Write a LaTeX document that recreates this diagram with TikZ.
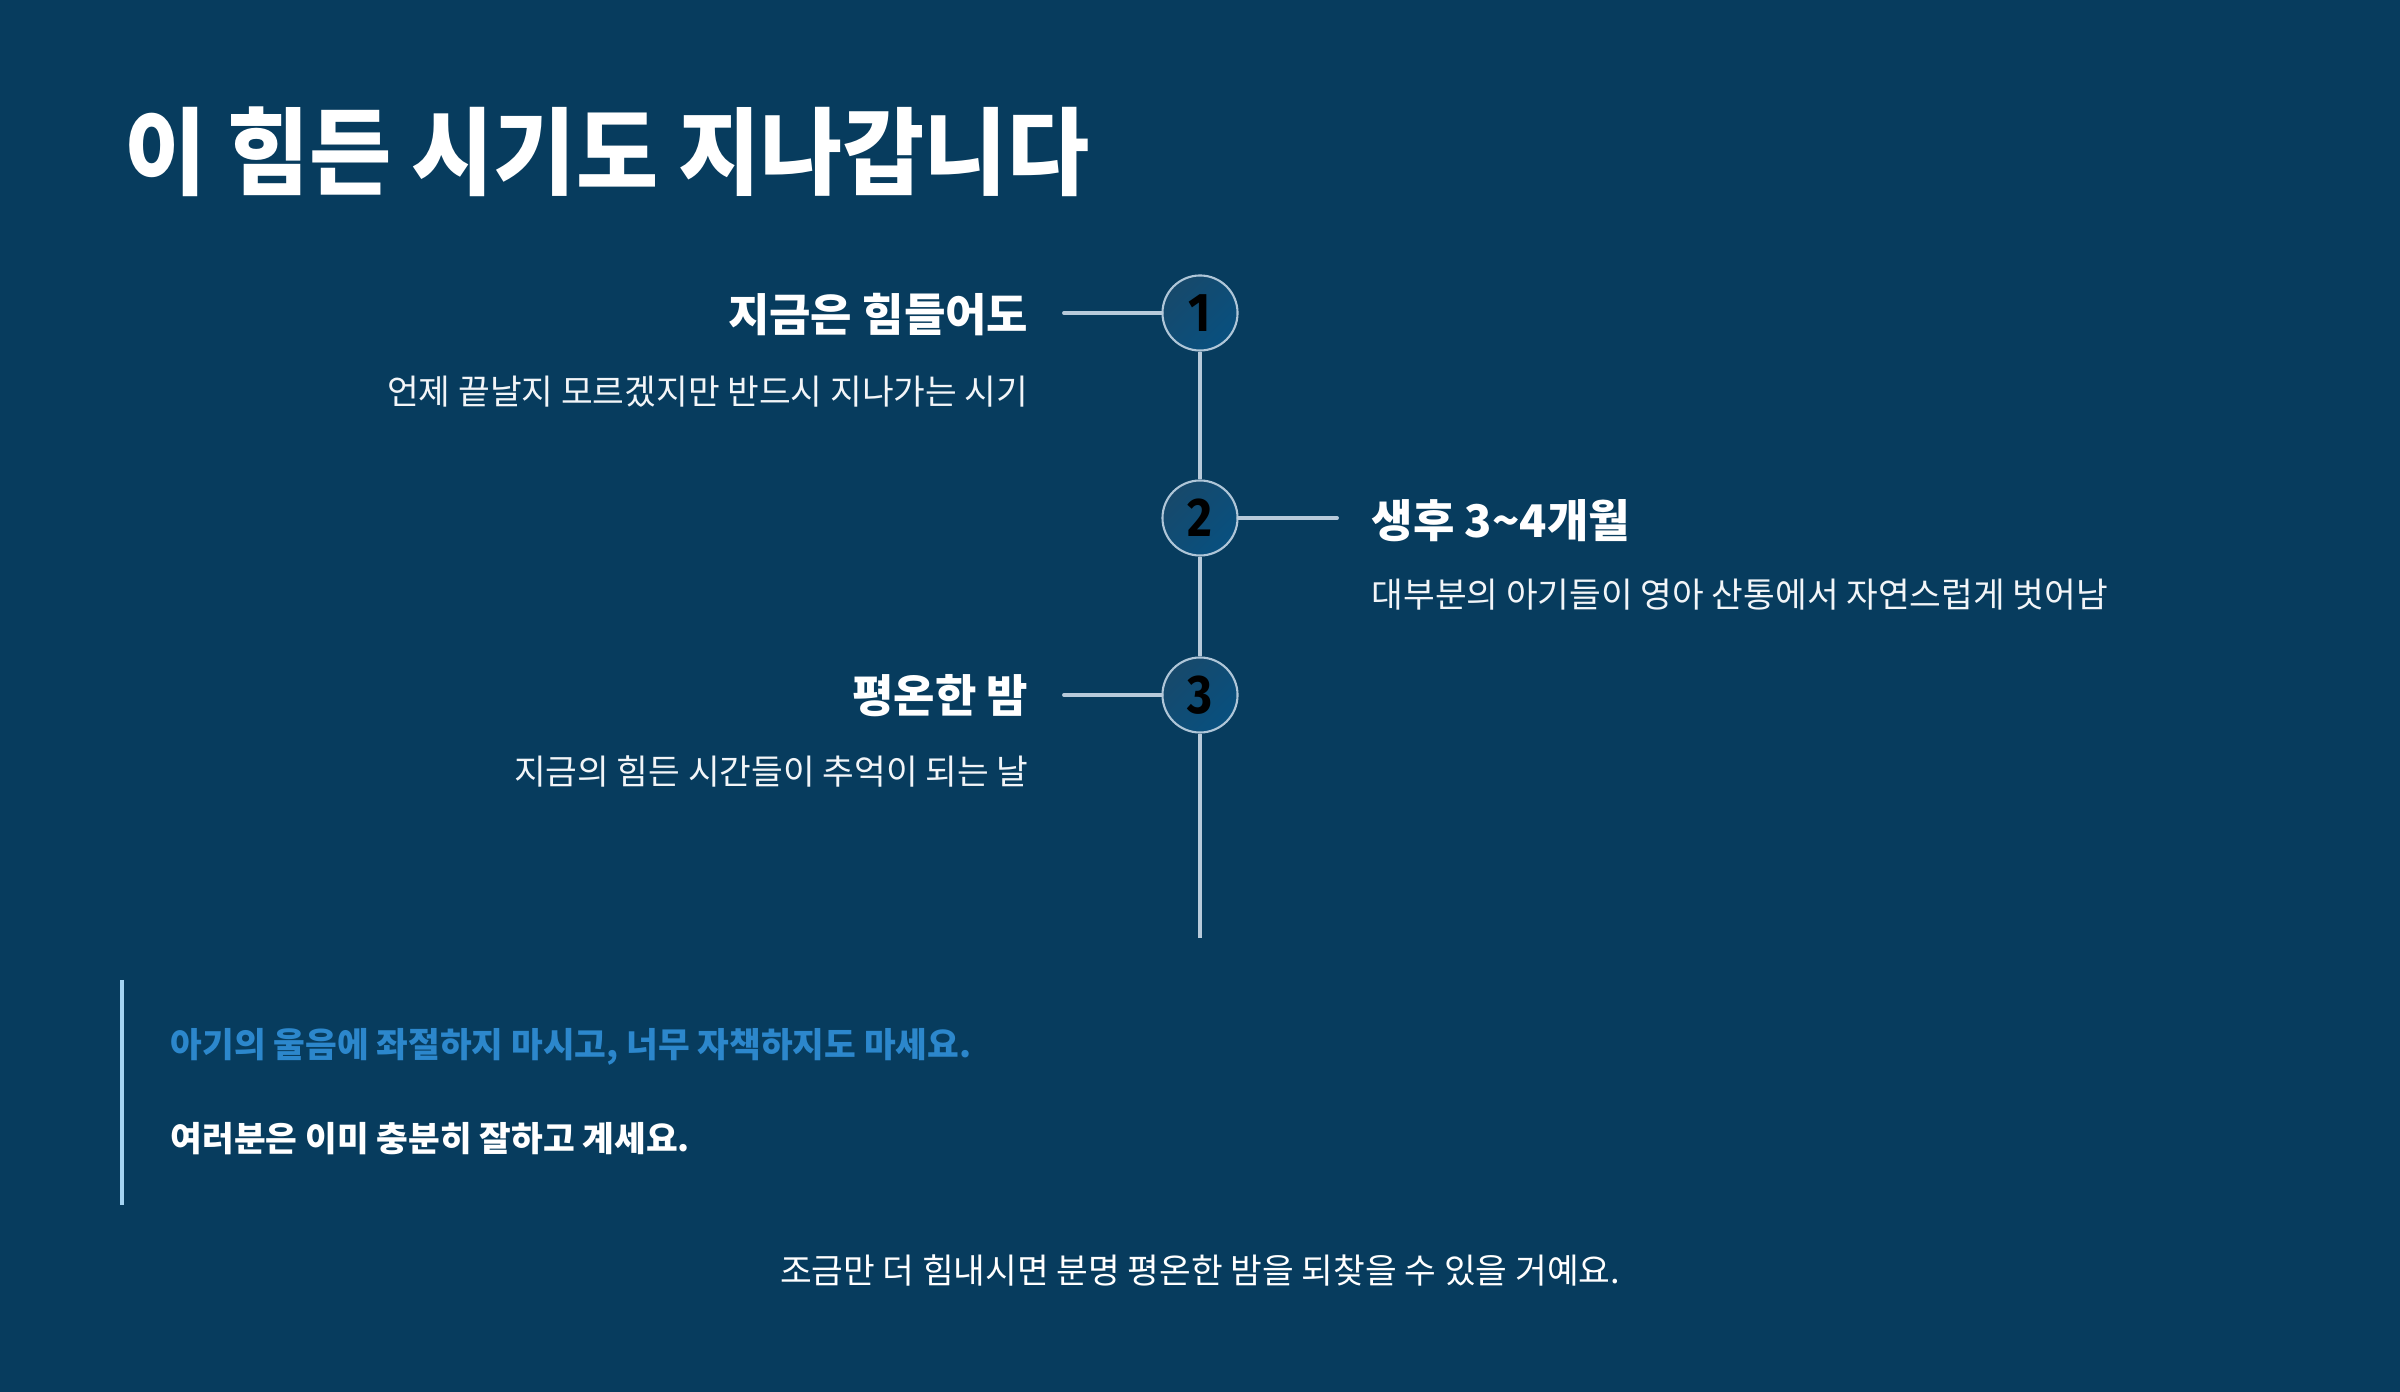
\documentclass[tikz,border=0pt]{standalone}
\usepackage{fontspec}
\usetikzlibrary{positioning}
\newfontfamily\krfont{Noto Sans CJK KR}
\newfontfamily\krtitlefont[FakeStretch=0.94]{Noto Sans CJK KR}
\newfontfamily\numfont[FakeStretch=0.88]{Fira Sans}
\definecolor{bg}{HTML}{073C5E}
\definecolor{rail}{HTML}{B7CADA}
\definecolor{ring}{HTML}{AFC6D8}
\definecolor{dotlo}{HTML}{17496B}
\definecolor{dothi}{HTML}{08507F}
\definecolor{accent}{HTML}{2C87CC}
\definecolor{bar}{HTML}{A3D3F2}
\definecolor{soft}{HTML}{F2F5F8}
\tikzset{
  every node/.style={inner sep=0pt, text=white},
  title/.style={font=\krtitlefont\bfseries\fontsize{27}{31}\selectfont, anchor=west},
  head/.style={font=\krfont\bfseries\fontsize{12.8}{15}\selectfont},
  sub/.style={font=\krfont\fontsize{9.8}{12}\selectfont, text=soft},
  quote/.style={font=\krfont\bfseries\fontsize{9.8}{12}\selectfont, anchor=west},
  stepdot/.style={circle, minimum size=0.75cm, draw=ring, line width=0.6pt,
    left color=dotlo, right color=dothi, shading angle=45,
    font=\numfont\bfseries\fontsize{15.5}{17}\selectfont, text=black},
  link/.style={draw=rail, line width=1.1pt, line cap=round},
  quotebar/.style={draw=bar, line width=1.1pt},
}

\begin{document}
\begin{tikzpicture}[x=0.01cm, y=-0.01cm]
  \fill[bg] (0,0) rectangle (2400,1392);
  \useasboundingbox (0,0) rectangle (2400,1392);
  % spine x, rows: y positions
  \def\xs{1200}
  \def\ya{313} \def\yb{518} \def\yc{695} \def\yend{938}
  \def\xl{1029} \def\xr{1371}

  % title
  \node[title] (title) at (124,152) {이 힘든 시기도 지나갑니다};

  % steps on the spine
  \foreach \i/\y in {1/\ya, 2/\yb, 3/\yc} {
    \node[stepdot] (c\i) at (\xs,\y) {\i};
  }
  \coordinate (spineend) at (\xs,\yend);
  \foreach \u/\v in {c1/c2, c2/c3} {
    \draw[link, line cap=butt] (\u.south) -- (\v.north);
  }
  \draw[link, line cap=butt] (c3.south) -- (spineend);

  % short ticks towards the labels
  \coordinate (k1) at (1064,\ya);
  \coordinate (k2) at (1337,\yb);
  \coordinate (k3) at (1064,\yc);
  \draw[link] (k1) -- (c1.west);
  \draw[link] (c2.east) -- (k2);
  \draw[link] (k3) -- (c3.west);

  % labels
  \node[head, anchor=east] (h1) at (\xl,315) {지금은 힘들어도};
  \node[sub, anchor=east] (s1) at (\xl,392) {언제 끝날지 모르겠지만 반드시 지나가는 시기};
  \node[head, anchor=west] (h2) at (\xr,521) {생후 3\string~4개월};
  \node[sub, anchor=west] (s2) at (\xr,595) {대부분의 아기들이 영아 산통에서 자연스럽게 벗어남};
  \node[head, anchor=east] (h3) at (\xl,696) {평온한 밤};
  \node[sub, anchor=east] (s3) at (\xl,771) {지금의 힘든 시간들이 추억이 되는 날};

  % quote block
  \coordinate (bartop) at (122,980);
  \coordinate (barbot) at (122,1205);
  \draw[quotebar] (bartop) -- (barbot);
  \node[quote, text=accent] (q1) at (170,1047) {아기의 울음에 좌절하지 마시고, 너무 자책하지도 마세요.};
  \node[quote] (q2) at (170,1139) {여러분은 이미 충분히 잘하고 계세요.};

  % closing line
  \node[sub, text=white] (foot) at (1200,1270) {조금만 더 힘내시면 분명 평온한 밤을 되찾을 수 있을 거예요.};
\end{tikzpicture}
\end{document}
